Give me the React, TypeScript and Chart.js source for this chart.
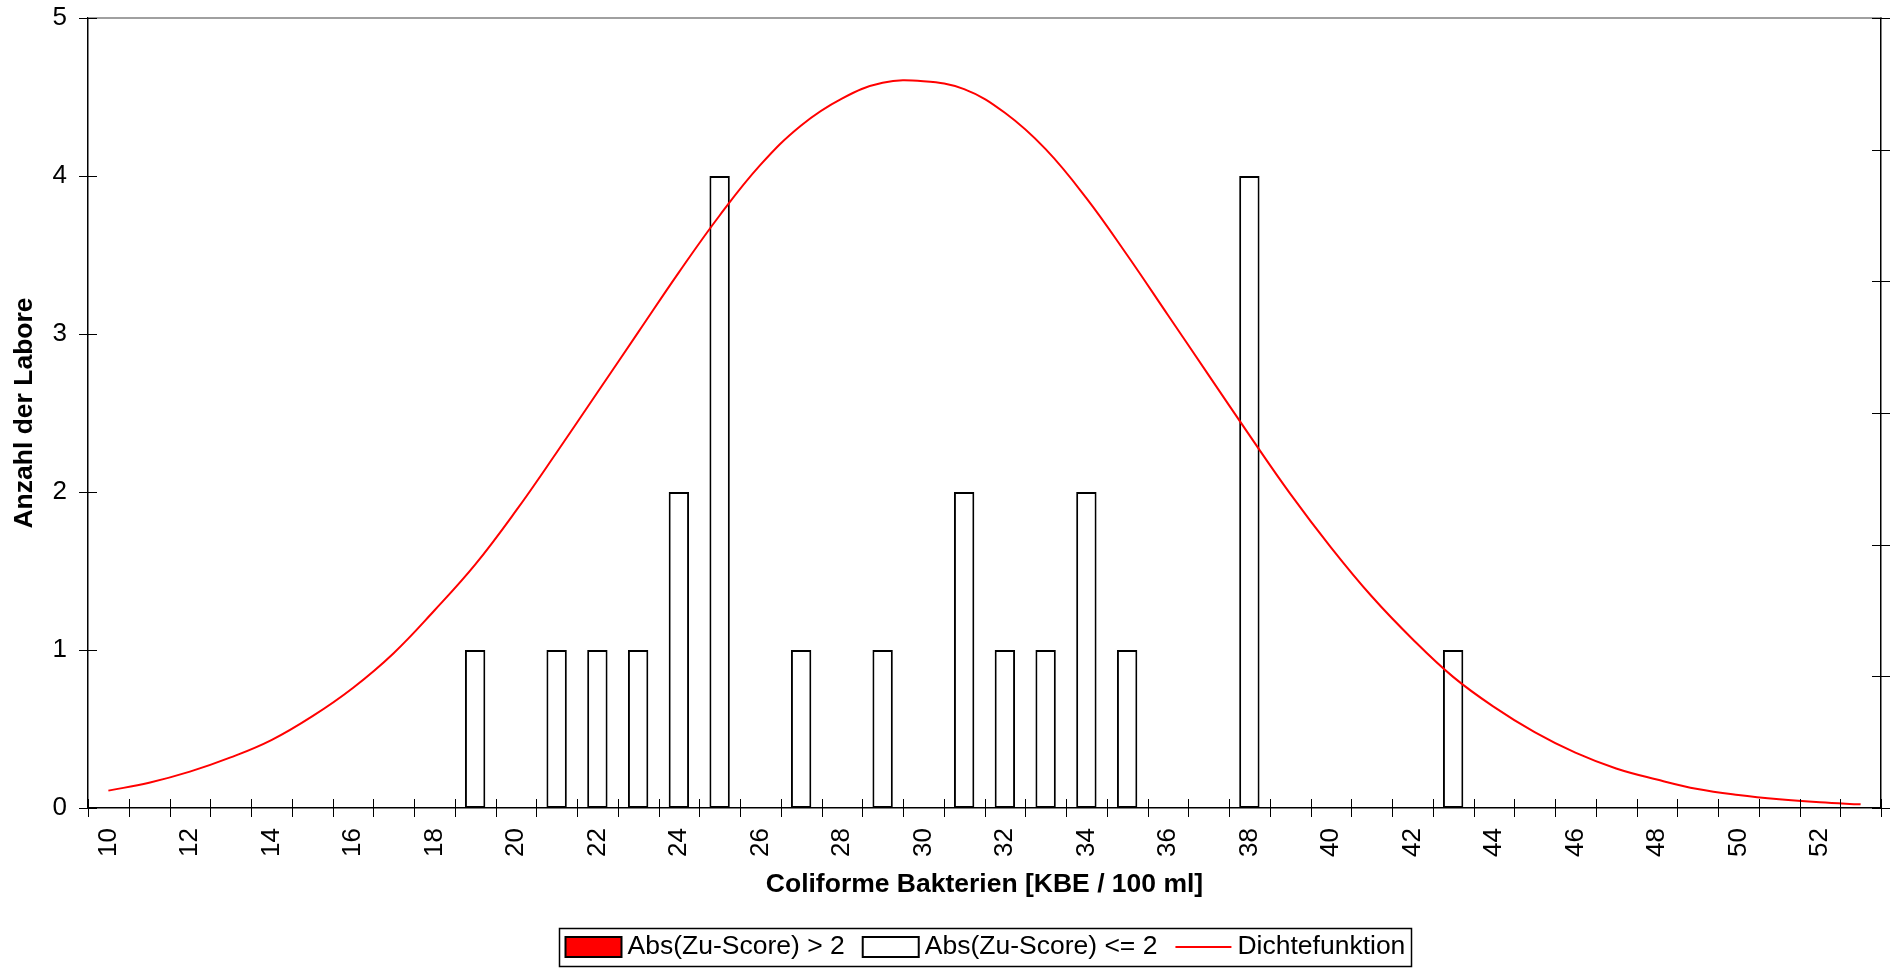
import React, { useEffect, useRef } from 'react';
import { Chart, registerables } from 'chart.js';

Chart.register(...registerables);

const FONT = '"Liberation Sans", Arial, Helvetica, sans-serif';

// Categories on the x axis (KBE / 100 ml)
const categories = [
  '10', '11', '12', '13', '14', '15', '16', '17', '18', '19',
  '20', '21', '22', '23', '24', '25', '26', '27', '28', '29',
  '30', '31', '32', '33', '34', '35', '36', '37', '38', '39',
  '40', '41', '42', '43', '44', '45', '46', '47', '48', '49',
  '50', '51', '52', '53',
];

// Which category labels are printed
const xTickLabels = ['10', '12', '14', '16', '18', '20', '22', '24', '26', '28', '30',
  '32', '34', '36', '38', '40', '42', '44', '46', '48', '50', '52'];

// Number of labs with |Zu-Score| > 2 (none)
const countsOutlier: (number | null)[] = [
  null, null, null, null, null, null, null, null, null, null,
  null, null, null, null, null, null, null, null, null, null,
  null, null, null, null, null, null, null, null, null, null,
  null, null, null, null, null, null, null, null, null, null,
  null, null, null, null,
];

// Number of labs with |Zu-Score| <= 2
const countsNormal: (number | null)[] = [
  null, null, null, null, null, null, null, null, null, 1,
  null, 1, 1, 1, 2, 4, null, 1, null, 1,
  null, 2, 1, 1, 2, 1, null, null, 4, null,
  null, null, null, 1, null, null, null, null, null, null,
  null, null, null, null,
];

// Density curve (scaled to the count axis)
const density = [
  0.11, 0.16, 0.23, 0.32, 0.43, 0.58, 0.76, 0.98, 1.25, 1.54,
  1.88, 2.25, 2.63, 3.01, 3.39, 3.75, 4.07, 4.32, 4.49, 4.59,
  4.60, 4.55, 4.40, 4.17, 3.86, 3.50, 3.12, 2.74, 2.36, 1.99,
  1.65, 1.34, 1.07, 0.83, 0.64, 0.48, 0.35, 0.25, 0.18, 0.12,
  0.082, 0.055, 0.036, 0.023,
];

const yTicks = [0, 1, 2, 3, 4, 5];

const labelOutlier = 'Abs(Zu-Score) > 2';
const labelNormal = 'Abs(Zu-Score) <= 2';
const labelDensity = 'Dichtefunktion';
const xTitle = 'Coliforme Bakterien [KBE / 100 ml]';
const yTitle = 'Anzahl der Labore';

const zeroPad = (s: any) => {
  s.paddingTop = 0;
  s.paddingBottom = 0;
  s.paddingLeft = 0;
  s.paddingRight = 0;
};

const decorPlugin = {
  id: 'decor',
  afterDatasetsDraw(chart: any) {
    const ctx = chart.ctx;
    const { left, right, top, bottom } = chart.chartArea;
    ctx.save();
    // top border (grey)
    ctx.strokeStyle = '#808080';
    ctx.lineWidth = 1.5;
    ctx.beginPath();
    ctx.moveTo(left, top);
    ctx.lineTo(right, top);
    ctx.stroke();

    ctx.strokeStyle = '#000';
    ctx.lineWidth = 1;
    const half = 9;
    // x ticks at category edges
    const xs = chart.scales.x;
    for (let i = 0; i <= categories.length; i++) {
      const px = Math.round(xs.getPixelForValue(i - 0.5)) + 0.5;
      ctx.beginPath();
      ctx.moveTo(px, bottom - half);
      ctx.lineTo(px, bottom + half);
      ctx.stroke();
    }
    // left y ticks
    const ys = chart.scales.y;
    yTicks.forEach((v) => {
      const py = Math.round(ys.getPixelForValue(v)) + 0.5;
      ctx.beginPath();
      ctx.moveTo(left - half, py);
      ctx.lineTo(left + half, py);
      ctx.stroke();
    });
    // right axis ticks
    const y2 = chart.scales.y2;
    y2.ticks.forEach((t: any) => {
      const py = Math.round(y2.getPixelForValue(t.value)) + 0.5;
      ctx.beginPath();
      ctx.moveTo(right - half, py);
      ctx.lineTo(right + half, py);
      ctx.stroke();
    });
    ctx.restore();
  },
  afterDraw(chart: any) {
    const ctx = chart.ctx;
    const ds = chart.data.datasets;
    const items = [ds[1], ds[2], ds[0]];
    ctx.save();
    ctx.font = `26.5px ${FONT}`;
    const boxW = 56;
    const boxH = 20;
    const gapText = 6;
    const gapItem = 18;
    const pad = 6;
    const widths = items.map((d: any) => ctx.measureText(d.label).width);
    const total = pad * 2 + widths.reduce((a: number, w: number) => a + boxW + gapText + w, 0) + gapItem * (items.length - 1);
    const cx = (chart.chartArea.left + chart.chartArea.right) / 2;
    const top = chart.height - 41;
    const bot = chart.height - 3;
    const cy = (top + bot) / 2;
    let x = Math.round(cx - total / 2) + 0.5;
    ctx.strokeStyle = '#000';
    ctx.lineWidth = 1.5;
    ctx.strokeRect(x, top + 0.5, Math.round(total), bot - top);
    x += pad;
    items.forEach((d: any, i: number) => {
      if (d.type === 'line') {
        ctx.strokeStyle = d.borderColor;
        ctx.lineWidth = 2;
        ctx.beginPath();
        ctx.moveTo(x, cy);
        ctx.lineTo(x + boxW, cy);
        ctx.stroke();
      } else {
        ctx.fillStyle = d.backgroundColor;
        ctx.fillRect(x, cy - boxH / 2, boxW, boxH);
        ctx.strokeStyle = '#000';
        ctx.lineWidth = 2;
        ctx.strokeRect(x, cy - boxH / 2, boxW, boxH);
      }
      x += boxW + gapText;
      ctx.fillStyle = '#000';
      ctx.textBaseline = 'middle';
      ctx.textAlign = 'left';
      ctx.fillText(d.label, x, cy);
      x += widths[i] + gapItem;
    });
    ctx.restore();
  },
};

export default function App() {
  const canvasRef = useRef<HTMLCanvasElement>(null);

  useEffect(() => {
    const chart = new Chart(canvasRef.current as HTMLCanvasElement, {
      type: 'bar',
      data: {
        labels: categories,
        datasets: [
          {
            type: 'line',
            label: labelDensity,
            data: density,
            borderColor: '#FF0000',
            backgroundColor: '#FF0000',
            borderWidth: 2,
            pointRadius: 0,
            tension: 0.4,
            fill: false,
            order: 0,
            yAxisID: 'y',
          } as any,
          {
            type: 'bar',
            label: labelOutlier,
            data: countsOutlier,
            backgroundColor: '#FF0000',
            borderColor: '#000000',
            borderWidth: 2,
            borderSkipped: false,
            grouped: false,
            barPercentage: 0.5,
            categoryPercentage: 1.0,
            order: 1,
            yAxisID: 'y',
          } as any,
          {
            type: 'bar',
            label: labelNormal,
            data: countsNormal,
            backgroundColor: '#FFFFFF',
            borderColor: '#000000',
            borderWidth: 2,
            borderSkipped: false,
            grouped: false,
            barPercentage: 0.5,
            categoryPercentage: 1.0,
            order: 2,
            yAxisID: 'y',
          } as any,
        ],
      },
      options: {
        animation: false,
        responsive: true,
        maintainAspectRatio: false,
        devicePixelRatio: 1,
        layout: { padding: { top: 18, left: 0, right: 0, bottom: 0 } },
        plugins: {
          legend: { display: false },
          tooltip: { enabled: false },
        },
        scales: {
          x: {
            type: 'category',
            offset: true,
            grid: { display: false, drawTicks: false, offset: true },
            border: { display: true, color: '#000', width: 1.5 },
            ticks: {
              autoSkip: false,
              minRotation: 90,
              maxRotation: 90,
              padding: 20,
              color: '#000',
              font: { family: FONT, size: 26 },
              callback: (_v: any, i: number) => (xTickLabels.includes(categories[i]) ? categories[i] : ''),
            },
            title: {
              display: true,
              text: xTitle,
              color: '#000',
              font: { family: FONT, size: 26.5, weight: 'bold' },
              padding: { top: 0, bottom: 68 },
            },
            afterFit: (s: any) => { s.height = 161; zeroPad(s); },
          },
          y: {
            position: 'left',
            min: 0,
            max: 5,
            ticks: {
              stepSize: 1,
              padding: 21,
              color: '#000',
              font: { family: FONT, size: 26 },
            },
            grid: { display: false, drawTicks: false },
            border: { display: true, color: '#000', width: 1.5 },
            title: {
              display: true,
              text: yTitle,
              color: '#000',
              font: { family: FONT, size: 26.5, weight: 'bold' },
              padding: { top: 9, bottom: 0 },
            },
            afterFit: (s: any) => { s.width = 88; zeroPad(s); },
          },
          y2: {
            position: 'right',
            min: 0,
            max: 6,
            ticks: { stepSize: 1, display: false },
            grid: { display: false, drawTicks: false },
            border: { display: true, color: '#000', width: 1.5 },
            afterFit: (s: any) => { s.width = 13; zeroPad(s); },
          },
        },
      } as any,
      plugins: [decorPlugin],
    });
    return () => chart.destroy();
  }, []);

  return (
    <div style={{ position: 'fixed', left: 0, top: 0, width: 1894, height: 969, background: '#fff' }}>
      <canvas ref={canvasRef} />
    </div>
  );
}
